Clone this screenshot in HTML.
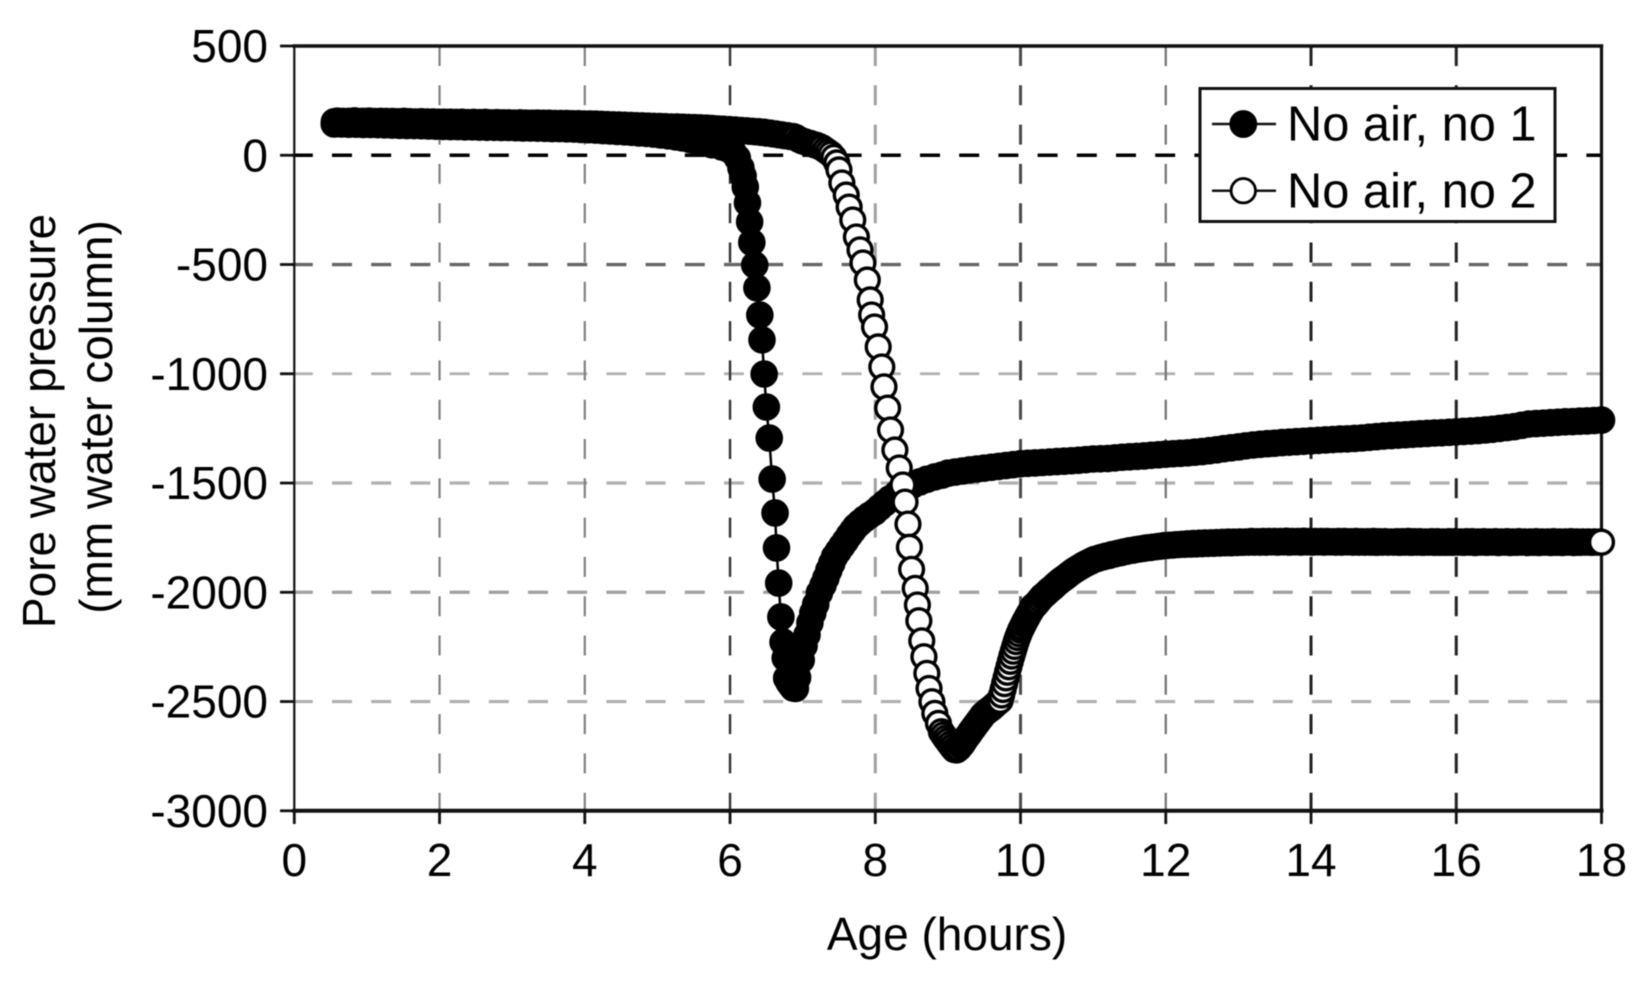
<!DOCTYPE html>
<html lang="en">
<head>
<meta charset="utf-8">
<title>Pore water pressure vs age</title>
<style>
html,body{margin:0;padding:0;background:#fff;}
#chart{display:block;width:1647px;height:988px;filter:blur(0.55px);font-family:"Liberation Sans",Arial,sans-serif;fill:#000;}
text{font-family:"Liberation Sans",Arial,sans-serif;fill:#000;}
</style>
</head>
<body>
<svg id="chart" xmlns="http://www.w3.org/2000/svg" width="1647" height="988" viewBox="0 0 1647 988">
  <rect x="0" y="0" width="1647" height="988" fill="#fff"/>
  <g id="grid"></g>
  <g id="axes"></g>
  <text transform="translate(55,421) rotate(-90)" text-anchor="middle" font-size="46">Pore water pressure</text>
  <text transform="translate(112,417) rotate(-90)" text-anchor="middle" font-size="46">(mm water column)</text>
  <text x="947" y="950" text-anchor="middle" font-size="46">Age (hours)</text>
  <g id="series"></g>
  <g>
    <rect x="1200" y="88.5" width="355" height="133" fill="#fff" stroke="#111" stroke-width="3"/>
    <g>
      <line x1="1212" y1="124" x2="1276" y2="124" stroke="#111" stroke-width="2.5"/>
      <circle cx="1243.3" cy="124" r="12.6" fill="#000" stroke="#000" stroke-width="2.6"/>
      <text x="1287" y="140.7" font-size="48.8">No air, no 1</text>
    </g>
    <g>
      <line x1="1212" y1="190.7" x2="1276" y2="190.7" stroke="#111" stroke-width="2.5"/>
      <circle cx="1243.3" cy="190.7" r="12.2" fill="#fff" stroke="#000" stroke-width="2.8"/>
      <text x="1287" y="207.3" font-size="48.8">No air, no 2</text>
    </g>
  </g>
</svg>
<script>
const xTicks = [0,2,4,6,8,10,12,14,16,18];
const yTicks = [500,0,-500,-1000,-1500,-2000,-2500,-3000];

const ages1 = [
0.55,0.65,0.75,0.85,0.95,1.05,1.15,1.25,1.35,1.45,
1.55,1.65,1.75,1.85,1.95,2.05,2.15,2.25,2.35,2.45,
2.55,2.65,2.75,2.85,2.95,3.05,3.15,3.25,3.35,3.45,
3.55,3.65,3.75,3.85,3.95,4.05,4.15,4.25,4.35,4.45,
4.55,4.65,4.75,4.85,4.95,5.05,5.15,5.25,5.35,5.45,
5.55,5.65,5.75,5.89,5.97,6.04,6.10,6.15,6.18,6.21,
6.24,6.27,6.30,6.34,6.37,6.41,6.44,6.47,6.50,6.54,
6.58,6.62,6.64,6.67,6.70,6.73,6.76,6.78,6.81,6.84,
6.87,6.90,6.93,6.98,7.02,7.06,7.10,7.14,7.18,7.23,
7.28,7.32,7.36,7.40,7.44,7.49,7.54,7.59,7.64,7.69,
7.73,7.79,7.85,7.92,7.99,8.06,8.13,8.20,8.30,8.41,
8.51,8.61,8.71,8.82,8.92,9.00,9.10,9.20,9.30,9.40,
9.50,9.60,9.70,9.80,9.90,10.0,10.1,10.2,10.3,10.4,
10.5,10.6,10.7,10.8,10.9,11.0,11.1,11.2,11.3,11.4,
11.5,11.6,11.7,11.8,11.9,12.0,12.1,12.2,12.3,12.4,
12.5,12.6,12.7,12.8,12.9,13.0,13.1,13.2,13.3,13.4,
13.5,13.6,13.7,13.8,13.9,14.0,14.1,14.2,14.3,14.4,
14.5,14.6,14.7,14.8,14.9,15.0,15.1,15.2,15.3,15.4,
15.5,15.6,15.7,15.8,15.9,16.0,16.1,16.2,16.3,16.4,
16.5,16.6,16.7,16.8,16.9,17.0,17.1,17.2,17.3,17.4,
17.5,17.6,17.7,17.8,17.9,18.0];
const pressures1 = [
143,143,142,142,141,141,140,139,138,137,
136,136,135,134,133,132,131,131,130,130,
129,128,128,127,127,126,125,125,124,123,
122,122,121,120,118,117,115,113,111,109,
107,105,102,100,97,93,89,84,79,72,
64,57,48,38,29,15,-12,-58,-95,-145,
-218,-305,-399,-502,-607,-731,-845,-1001,-1152,-1294,
-1482,-1637,-1797,-1958,-2113,-2228,-2301,-2393,-2411,-2425,
-2438,-2440,-2390,-2310,-2245,-2195,-2140,-2095,-2055,-2003,
-1968,-1935,-1900,-1868,-1837,-1812,-1788,-1765,-1740,-1718,
-1700,-1682,-1665,-1648,-1633,-1612,-1592,-1573,-1548,-1527,
-1510,-1495,-1483,-1472,-1464,-1455,-1450,-1445,-1440,-1436,
-1432,-1428,-1424,-1420,-1416,-1412,-1410,-1408,-1406,-1404,
-1402,-1400,-1398,-1396,-1393,-1390,-1389,-1388,-1385,-1382,
-1380,-1378,-1376,-1373,-1371,-1368,-1366,-1364,-1362,-1359,
-1356,-1352,-1348,-1343,-1339,-1335,-1330,-1326,-1323,-1320,
-1318,-1315,-1313,-1311,-1309,-1307,-1305,-1303,-1301,-1299,
-1298,-1296,-1294,-1291,-1288,-1285,-1283,-1281,-1279,-1277,
-1275,-1273,-1271,-1270,-1268,-1266,-1264,-1262,-1260,-1257,
-1254,-1250,-1246,-1242,-1236,-1230,-1228,-1226,-1224,-1222,
-1220,-1219,-1217,-1216,-1214,-1212];

const ages2 = [
0.55,0.59,0.63,0.67,0.71,0.75,0.79,0.83,0.87,0.91,
0.95,0.99,1.03,1.07,1.11,1.15,1.19,1.23,1.27,1.31,
1.35,1.39,1.43,1.47,1.51,1.55,1.59,1.63,1.67,1.71,
1.75,1.79,1.83,1.87,1.91,1.95,1.99,2.03,2.07,2.11,
2.15,2.19,2.23,2.27,2.31,2.35,2.39,2.43,2.47,2.51,
2.55,2.59,2.63,2.67,2.71,2.75,2.79,2.83,2.87,2.91,
2.95,2.99,3.03,3.07,3.11,3.15,3.19,3.23,3.27,3.31,
3.35,3.39,3.43,3.47,3.51,3.55,3.59,3.63,3.67,3.71,
3.75,3.79,3.83,3.87,3.91,3.95,3.99,4.03,4.07,4.11,
4.15,4.19,4.23,4.27,4.31,4.35,4.39,4.43,4.47,4.51,
4.55,4.59,4.63,4.67,4.71,4.75,4.79,4.83,4.87,4.91,
4.95,4.99,5.03,5.07,5.11,5.15,5.19,5.23,5.27,5.31,
5.35,5.39,5.43,5.47,5.51,5.55,5.59,5.63,5.67,5.71,
5.75,5.79,5.83,5.87,5.91,5.95,5.99,6.03,6.07,6.11,
6.15,6.19,6.23,6.27,6.31,6.35,6.39,6.43,6.47,6.51,
6.55,6.59,6.63,6.67,6.71,6.75,6.79,6.83,6.87,6.91,
6.95,6.99,7.03,7.07,7.11,7.15,7.19,7.23,7.27,7.31,
7.35,7.39,7.43,7.47,7.50,7.54,7.60,7.64,7.69,7.74,
7.79,7.83,7.89,7.93,7.95,7.99,8.04,8.09,8.12,8.17,
8.21,8.27,8.33,8.38,8.41,8.45,8.47,8.50,8.55,8.58,
8.60,8.64,8.67,8.71,8.74,8.78,8.82,8.87,8.91,8.94,
8.97,9.00,9.03,9.06,9.09,
9.12,9.15,9.18,9.20,9.22,9.24,9.26,9.28,9.30,9.32,
9.34,9.36,9.38,9.40,9.42,9.44,9.46,9.48,9.51,9.54,
9.57,9.60,9.63,9.66,9.69,9.72,
9.74,9.76,9.78,9.80,9.82,9.84,9.86,9.88,9.90,9.92,
9.94,9.96,9.98,10.00,10.02,10.04,10.06,10.08,10.10,10.12,
10.14,10.16,10.18,10.20,10.22,10.24,10.27,10.30,
10.33,10.36,10.39,10.42,10.45,10.48,10.51,10.54,10.57,10.60,
10.63,10.66,10.69,10.72,10.75,10.78,10.81,10.84,10.87,10.90,
10.93,10.96,10.99,
11.02,11.06,11.10,11.14,11.18,11.22,11.26,11.30,11.34,11.38,
11.42,11.46,11.50,11.54,11.58,11.62,11.66,11.70,11.74,11.78,
11.82,11.86,11.90,11.94,11.98,12.02,12.06,12.10,12.14,12.18,
12.22,12.26,12.30,12.34,12.38,12.42,12.46,12.50,12.54,12.58,
12.62,12.66,12.70,12.74,12.78,12.82,12.86,12.90,12.94,12.98,
13.02,13.06,13.10,13.14,13.18,13.22,13.26,13.30,13.34,13.38,
13.42,13.46,13.50,13.54,13.58,13.62,13.66,13.70,13.74,13.78,
13.82,13.86,13.90,13.94,13.98,14.02,14.06,14.10,14.14,14.18,
14.22,14.26,14.30,14.34,14.38,14.42,14.46,14.50,14.54,14.58,
14.62,14.66,14.70,14.74,14.78,14.82,14.86,14.90,14.94,14.98,
15.02,15.06,15.10,15.14,15.18,15.22,15.26,15.30,15.34,15.38,
15.42,15.46,15.50,15.54,15.58,15.62,15.66,15.70,15.74,15.78,
15.82,15.86,15.90,15.94,15.98,16.02,16.06,16.10,16.14,16.18,
16.22,16.26,16.30,16.34,16.38,16.42,16.46,16.50,16.54,16.58,
16.62,16.66,16.70,16.74,16.78,16.82,16.86,16.90,16.94,16.98,
17.02,17.06,17.10,17.14,17.18,17.22,17.26,17.30,17.34,17.38,
17.42,17.46,17.50,17.54,17.58,17.62,17.66,17.70,17.74,17.78,
17.82,17.86,17.90,17.94,17.98,18.00];
const pressures2 = [
154,157,153,156,152,156,154,158,153,155,
156,152,157,153,155,151,156,153,155,152,
155,151,154,152,156,150,154,151,153,152,
154,150,153,151,153,149,152,150,152,148,
152,149,151,148,152,149,150,147,151,148,
150,147,151,148,149,146,150,147,149,146,
149,146,148,145,149,146,148,145,147,146,
148,144,147,145,147,143,146,144,146,143,
146,143,145,142,145,143,144,141,144,141,
143,140,142,139,141,138,140,137,139,136,
138,135,137,134,136,133,135,132,134,131,
133,130,132,129,131,129,130,128,130,127,
129,127,128,126,127,125,126,124,125,123,
123,121,121,119,120,117,118,115,116,113,
114,111,112,109,110,107,108,104,106,101,
102,97,98,93,94,89,90,85,86,81,
72,66,62,57,54,49,46,40,34,24,
15,5,-10,-35,-67,-127,-182,-237,-296,-374,
-433,-493,-571,-662,-731,-786,-877,-969,-1060,-1157,
-1257,-1349,-1431,-1509,-1587,-1688,-1794,-1895,-1982,-2058,
-2130,-2222,-2295,-2371,-2440,-2501,-2554,-2600,-2638,-2653,
-2668,-2681,-2695,-2708,-2720,
-2722,-2714,-2702,-2693,-2683,-2672,-2663,-2654,-2645,-2635,
-2626,-2617,-2608,-2599,-2590,-2581,-2573,-2562,-2553,-2545,
-2537,-2530,-2521,-2512,-2503,-2495,
-2470,-2445,-2418,-2392,-2366,-2341,-2316,-2292,-2270,-2248,
-2226,-2207,-2190,-2173,-2160,-2146,-2133,-2121,-2109,-2097,
-2086,-2074,-2063,-2060,-2052,-2044,-2032,-2020,
-2012,-2003,-1993,-1985,-1977,-1967,-1958,-1950,-1942,-1935,
-1928,-1920,-1912,-1905,-1898,-1892,-1886,-1880,-1874,-1869,
-1864,-1859,-1854,
-1849,-1846,-1841,-1838,-1834,-1832,-1827,-1825,-1821,-1819,
-1815,-1813,-1809,-1808,-1805,-1803,-1801,-1799,-1796,-1796,
-1793,-1792,-1790,-1789,-1786,-1786,-1784,-1784,-1782,-1782,
-1780,-1781,-1778,-1780,-1776,-1779,-1775,-1778,-1774,-1777,
-1773,-1776,-1772,-1775,-1771,-1774,-1770,-1774,-1770,-1773,
-1769,-1772,-1769,-1771,-1767,-1771,-1768,-1771,-1767,-1771,
-1767,-1770,-1767,-1771,-1767,-1770,-1766,-1771,-1767,-1770,
-1767,-1771,-1766,-1770,-1767,-1771,-1767,-1770,-1767,-1771,
-1767,-1770,-1768,-1771,-1767,-1771,-1767,-1770,-1768,-1771,
-1767,-1771,-1768,-1771,-1768,-1771,-1767,-1772,-1768,-1771,
-1768,-1771,-1769,-1771,-1768,-1772,-1768,-1771,-1767,-1772,
-1768,-1771,-1768,-1772,-1769,-1771,-1768,-1772,-1768,-1772,
-1769,-1772,-1768,-1772,-1768,-1771,-1769,-1772,-1768,-1771,
-1768,-1773,-1769,-1771,-1768,-1772,-1769,-1771,-1768,-1773,
-1769,-1771,-1768,-1773,-1769,-1772,-1768,-1771,-1769,-1773,
-1769,-1772,-1768,-1773,-1769,-1771,-1769,-1773,-1768,-1772,
-1769,-1773,-1769,-1771,-1768,-1773,-1769,-1772,-1769,-1771,
-1769,-1772,-1769,-1771,-1769,-1771];

const SVG_NS = 'http://www.w3.org/2000/svg';
const plotLeft = 294.3, plotRight = 1601.5, plotTop = 46, plotBottom = 810.8;
function xScale(age){ return plotLeft + (age - 0) / (18 - 0) * (plotRight - plotLeft); }
function yScale(p){ return plotTop + (500 - p) / (500 - (-3000)) * (plotBottom - plotTop); }
function make(tag, attrs, parent){
  const el = document.createElementNS(SVG_NS, tag);
  for (const k in attrs) el.setAttribute(k, attrs[k]);
  parent.appendChild(el);
  return el;
}
const gridG = document.getElementById('grid');
const axesG = document.getElementById('axes');
const seriesG = document.getElementById('series');

const hStyle = {'0':['#000',3.6],'-500':['#666',3.4],'-1000':['#b0b0b0',2.8],'-1500':['#b0b0b0',3.2],'-2000':['#a0a0a0',3.2],'-2500':['#b0b0b0',3.2]};
const vStyle = {'2':['#808080',2.2],'4':['#808080',2.2],'6':['#333',2.4],'8':['#a0a0a0',3],'10':['#4a4a4a',3],'12':['#707070',2.2],'14':['#222',3],'16':['#222',3]};

yTicks.forEach(function(v){
  const s = hStyle[String(v)];
  if (s) {
    const g = make('line', {x1:plotLeft-1.5, x2:plotRight, y1:yScale(v), y2:yScale(v), stroke:s[0], 'stroke-width':s[1], 'stroke-dasharray':'20 19.2'}, gridG);
    
    
  }
  const t = make('line', {x1:280, x2:plotLeft, y1:yScale(v), y2:yScale(v), stroke:'#111', 'stroke-width':2.8}, axesG);
  
  
  const l = make('text', {x:268, y:yScale(v)+16, 'text-anchor':'end', 'font-size':46}, axesG);
  
  
  l.textContent = String(v);
});
xTicks.forEach(function(v){
  const s = vStyle[String(v)];
  if (s) {
    const g = make('line', {x1:xScale(v), x2:xScale(v), y1:plotTop, y2:plotBottom, stroke:s[0], 'stroke-width':s[1], 'stroke-dasharray':'20 19.3'}, gridG);
    
    
  }
  const t = make('line', {x1:xScale(v), x2:xScale(v), y1:plotBottom, y2:824, stroke:'#111', 'stroke-width':2.8}, axesG);
  
  
  const l = make('text', {x:xScale(v), y:876, 'text-anchor':'middle', 'font-size':46}, axesG);
  
  
  l.textContent = String(v);
});
const frame = [
  [plotLeft,plotTop,plotRight,plotTop,3.4],
  [plotLeft,plotBottom,plotRight,plotBottom,4],
  [plotLeft,plotTop,plotLeft,plotBottom,2.2],
  [plotRight,plotTop,plotRight,plotBottom,3.2]
];
frame.forEach(function(f){
  const b = make('line', {x1:f[0], y1:f[1], x2:f[2], y2:f[3], stroke:'#111', 'stroke-width':f[4], 'stroke-linecap':'square'}, axesG);
  
  
});

function drawSeries(ages, values, fill, r, sw, name){
  const pts = ages.map(function(a, i){ return xScale(a).toFixed(2) + ',' + yScale(values[i]).toFixed(2); }).join(' ');
  const group = make('g', {}, seriesG);
  
  
  const line = make('polyline', {points:pts, fill:'none', stroke:'#000', 'stroke-width':2.5}, group);
  
  
  ages.forEach(function(a, i){
    const c = make('circle', {cx:xScale(a).toFixed(2), cy:yScale(values[i]).toFixed(2), r:r, fill:fill, stroke:'#000', 'stroke-width':sw}, group);
    
    
  });
}
drawSeries(ages1, pressures1, '#000', 12.5, 2.6, 'series-no-air-1');
drawSeries(ages2, pressures2, '#fff', 11.9, 3.4, 'series-no-air-2');
</script>
</body>
</html>
